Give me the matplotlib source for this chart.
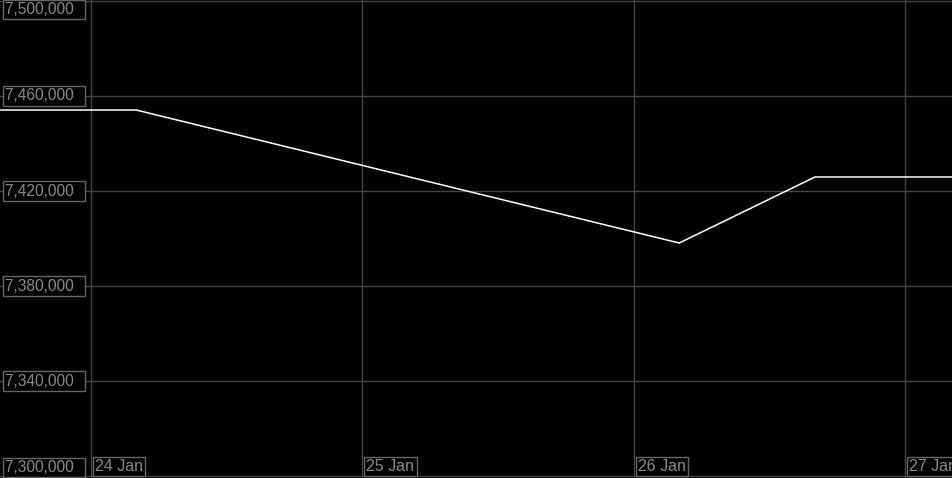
import matplotlib
matplotlib.use("Agg")
import matplotlib.pyplot as plt
import matplotlib.dates as mdates
import matplotlib.transforms as mtrans
from datetime import datetime

plt.rcParams['font.family'] = ['Liberation Sans', 'DejaVu Sans']

# series: time / value
times = [datetime(2023, 1, 23, 12), datetime(2023, 1, 24, 4), datetime(2023, 1, 26, 4),
         datetime(2023, 1, 26, 16), datetime(2023, 1, 27, 12)]
values = [7454100, 7454100, 7398100, 7425900, 7425900]

y_ticks = [7300000, 7340000, 7380000, 7420000, 7460000, 7500000]
x_ticks = [datetime(2023, 1, 24), datetime(2023, 1, 25), datetime(2023, 1, 26), datetime(2023, 1, 27)]
x_labels = ['24 Jan', '25 Jan', '26 Jan', '27 Jan']

grid_c = '#444444'
text_c = '#8a8a8a'
box_c = '#666666'

fig = plt.figure(figsize=(9.53, 4.78), dpi=100, facecolor='black')
ax = fig.add_axes([0, 0, 1, 1])
ax.set_facecolor('black')

ax.plot(mdates.date2num(times), values, color='white', lw=1.1, zorder=3)

d0 = mdates.date2num(datetime(2023, 1, 24))
ax.set_xlim(d0 - 0.3352, d0 + 3.175)
ax.set_ylim(7299158, 7500421)

ax.set_xticks(mdates.date2num(x_ticks))
ax.set_yticks(y_ticks)
ax.grid(True, color=grid_c, lw=1)
ax.tick_params(length=0, labelleft=False, labelbottom=False)
for s in ax.spines.values():
    s.set_visible(False)

bbox = dict(boxstyle='square,pad=0.15', fc='black', ec=box_c, lw=1)
ytr = mtrans.blended_transform_factory(ax.transAxes, ax.transData)
for v in y_ticks:
    label = f'{v:,}  '
    if v == y_ticks[-1]:
        t = ax.annotate(label, (0, 1), xycoords='axes fraction', xytext=(5, -2),
                        textcoords='offset pixels', va='top', ha='left')
    elif v == y_ticks[0]:
        t = ax.annotate(label, (0, 0), xycoords='axes fraction', xytext=(5, 3),
                        textcoords='offset pixels', va='bottom', ha='left')
    else:
        t = ax.annotate(label, (0, v), xycoords=ytr, xytext=(5, 0),
                        textcoords='offset pixels', va='center', ha='left')
    t.set_color(text_c)
    t.set_fontsize(11.2)
    t.set_bbox(bbox)
    t.set_zorder(5)

xtr = mtrans.blended_transform_factory(ax.transData, ax.transAxes)
for d, lab in zip(x_ticks, x_labels):
    t = ax.annotate(lab, (mdates.date2num(d), 0), xycoords=xtr, xytext=(4, 4),
                    textcoords='offset pixels', va='bottom', ha='left')
    t.set_color(text_c)
    t.set_fontsize(11.5)
    t.set_bbox(bbox)
    t.set_zorder(5)

fig.savefig('out.png', dpi=100, facecolor='black')
